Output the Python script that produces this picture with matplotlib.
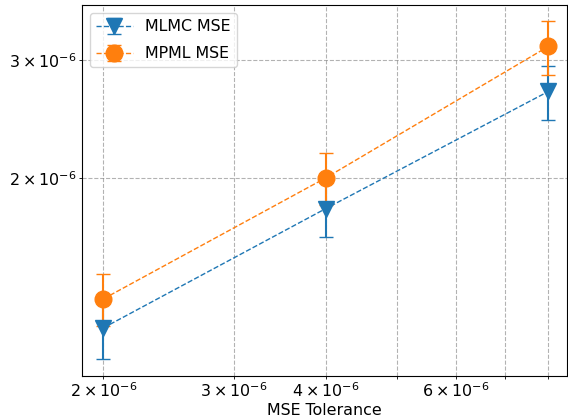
import matplotlib
matplotlib.use("Agg")
import matplotlib.pyplot as plt

plt.rcParams['font.size'] = 11.4

tolerance = [2e-6, 4e-6, 8e-6]
mlmc_mse = [1.195e-6, 1.80e-6, 2.69e-6]
mlmc_err = [0.121e-6, 0.17e-6, 0.25e-6]
mpml_mse = [1.32e-6, 2.0e-6, 3.14e-6]
mpml_err = [0.118e-6, 0.18e-6, 0.29e-6]

fig = plt.figure(figsize=(5.68, 4.19), dpi=100)
ax = fig.add_axes([82/568, 1 - 376/419, 485/568, 371/419])

ax.errorbar(tolerance, mlmc_mse, yerr=mlmc_err, fmt='v--', color='tab:blue',
            markersize=12, capsize=5, linewidth=1, elinewidth=1.5, label='MLMC MSE')
ax.errorbar(tolerance, mpml_mse, yerr=mpml_err, fmt='o--', color='tab:orange',
            markersize=12, capsize=5, linewidth=1, elinewidth=1.5, label='MPML MSE')

ax.set_xscale('log')
ax.set_yscale('log')
ax.set_xlim(1.871e-6, 8.48e-6)
ax.set_ylim(1.013e-6, 3.62e-6)
ax.set_xlabel('MSE Tolerance', labelpad=2)
ax.tick_params(which='both', pad=2)
ax.grid(True, which='both', linestyle='--', color='gray', alpha=0.6)
ax.legend(loc='upper left', labelspacing=0.75, handlelength=2.3)

fig.savefig('out.png', dpi=100)
